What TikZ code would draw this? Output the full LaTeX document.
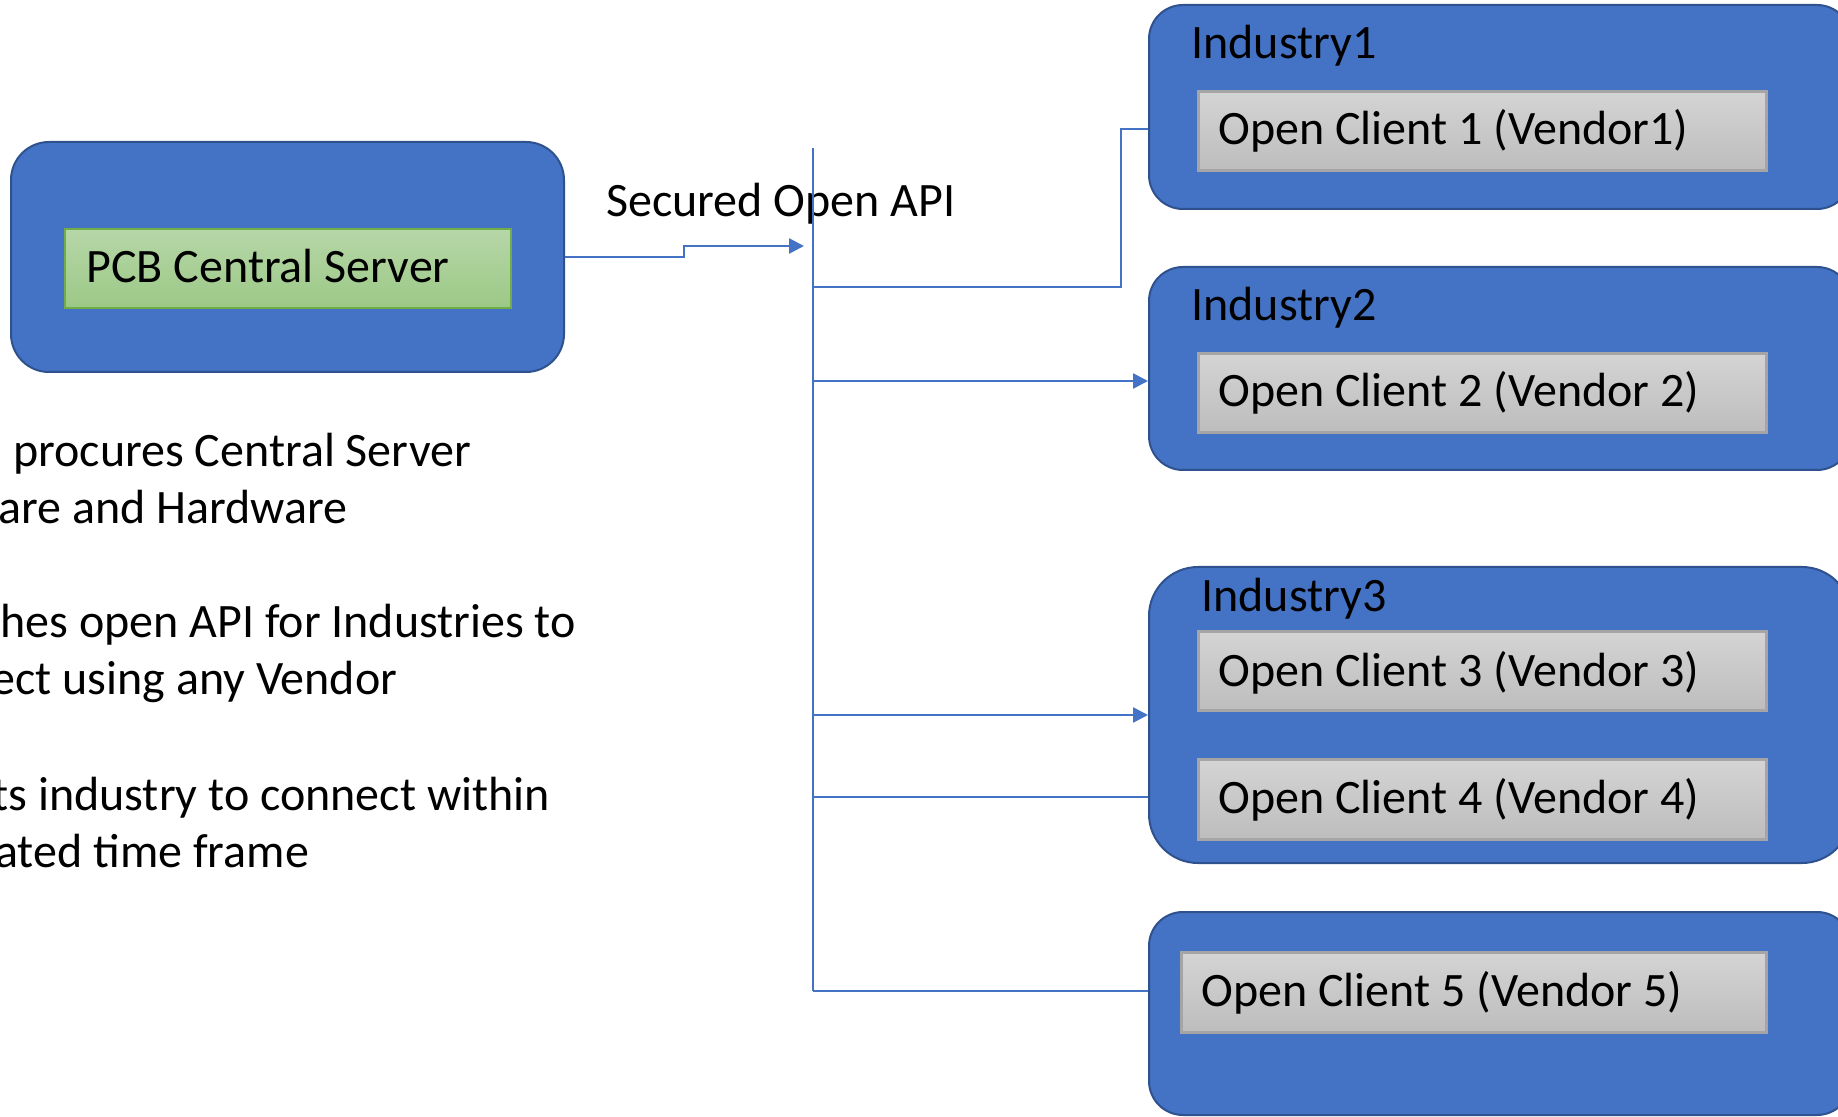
\documentclass[tikz,border=0pt]{standalone}
\usepackage{fontspec}
\setmainfont{Carlito}
\usetikzlibrary{arrows.meta,shadings}
\definecolor{ofblue}{HTML}{4472C4}
\definecolor{ofborder}{HTML}{2F528F}
\definecolor{gtop}{HTML}{B6D7A8}
\definecolor{gbot}{HTML}{9CC886}
\definecolor{gline}{HTML}{70AD47}
\definecolor{ctop}{HTML}{D4D4D4}
\definecolor{cbot}{HTML}{BDBDBD}
\definecolor{cline}{HTML}{A5A5A5}
\tikzset{
  bluebox/.style={draw=ofborder, line width=1pt, fill=ofblue, rectangle, anchor=north west, inner sep=0pt},
  greenbox/.style={draw=gline, line width=1.2pt, top color=gtop, bottom color=gbot, rectangle, anchor=north west, inner sep=0pt},
  clientbox/.style={draw=cline, line width=1.3pt, top color=ctop, bottom color=cbot, rectangle, anchor=north west, inner sep=0pt},
  txt/.style={font=\fontsize{24pt}{28pt}\selectfont, text=black, inner sep=0pt, anchor=base west},
  conn/.style={draw=ofblue, line width=1.3pt},
  arr/.style={conn, -{Triangle[length=7.5pt,width=7.5pt]}}
}
\begin{document}
\begin{tikzpicture}[x=0.5pt,y=-0.5pt]
\useasboundingbox (0,0) rectangle (1838,1117);
\clip (0,0) rectangle (1838,1117);
\fill[white] (0,0) rectangle (1838,1117);

% server
\node[bluebox, rounded corners=19pt, minimum width=276.5pt, minimum height=115pt] (srv) at (10,141) {};
\node[greenbox, minimum width=223pt, minimum height=39.5pt] (pcb) at (64,228) {};
\node[txt] (pcbt) at (86,283) {PCB Central Server};

% industries
\node[bluebox, rounded corners=17pt, minimum width=351pt, minimum height=102pt] (ind1) at (1148,4) {};
\node[bluebox, rounded corners=17pt, minimum width=351pt, minimum height=101.5pt] (ind2) at (1148,266) {};
\node[bluebox, rounded corners=24.5pt, minimum width=351pt, minimum height=148pt] (ind3) at (1148,566) {};
\node[bluebox, rounded corners=17pt, minimum width=351pt, minimum height=101.5pt] (ind5) at (1148,911) {};

\node[txt] (ind1t) at (1191,59) {Industry1};
\node[txt] (ind2t) at (1191,321) {Industry2};
\node[txt] (ind3t) at (1201,611) {Industry3};

\node[clientbox, minimum width=284pt, minimum height=39.5pt] (c1) at (1197,90) {};
\node[clientbox, minimum width=284pt, minimum height=39.5pt] (c2) at (1197,352) {};
\node[clientbox, minimum width=284pt, minimum height=39.5pt] (c3) at (1197,630) {};
\node[clientbox, minimum width=284pt, minimum height=40pt] (c4) at (1197,758) {};
\node[clientbox, minimum width=292.5pt, minimum height=40pt] (c5) at (1180,951) {};

\node[txt] (c1t) at (1218,145) {Open Client 1 (Vendor1)};
\node[txt] (c2t) at (1218,407) {Open Client 2 (Vendor 2)};
\node[txt] (c3t) at (1218,686) {Open Client 3 (Vendor 3)};
\node[txt] (c4t) at (1218,813) {Open Client 4 (Vendor 4)};
\node[txt] (c5t) at (1201,1006) {Open Client 5 (Vendor 5)};

% label
\node[txt] (api) at (606,217) {Secured Open API};

% left text
\node[txt] (l1) at (13,467) {procures Central Server};
\node[txt] (l2) at (-2,524) {are and Hardware};
\node[txt] (l3) at (0,638) {hes open API for Industries to};
\node[txt] (l4) at (-9,695) {ect using any Vendor};
\node[txt] (l5) at (-8,810) {ts industry to connect within};
\node[txt] (l6) at (-5,867) {ated time frame};

% connectors
\coordinate (bt) at (813,148);
\coordinate (bb) at (813,991);
\coordinate (jog) at (684,246);
\coordinate (tip) at (804,246);
\coordinate (b1) at (813,287);
\coordinate (k1) at (1121,129);
\coordinate (b2) at (813,381);
\coordinate (b3) at (813,715);
\coordinate (b4) at (813,797);

\draw[conn] (bt) -- (bb);
\draw[arr] (srv.east) -| (jog) -- (tip);
\draw[conn] (b1) -| (k1) -- (k1 -| ind1.west);
\draw[arr] (b2) -- (b2 -| ind2.west);
\draw[arr] (b3) -- (b3 -| ind3.west);
\draw[conn] (b4) -- (b4 -| ind3.west);
\draw[conn] (bb) -- (bb -| ind5.west);
\end{tikzpicture}
\end{document}
